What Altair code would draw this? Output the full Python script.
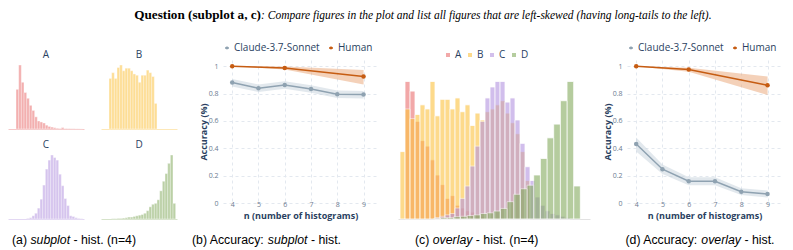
import altair as alt
import pandas as pd

# ---------------- texts ----------------
header_bold = "Question (subplot a, c)"
header_italic = ": Compare figures in the plot and list all figures that are left-skewed (having long-tails to the left)."
captions = [
    ["(a) ", "subplot", " - hist. (n=4)"],
    ["(b) Accuracy: ", "subplot", " - hist."],
    ["(c) ", "overlay", " - hist. (n=4)"],
    ["(d) Accuracy: ", "overlay", " - hist."],
]
models = ["Claude-3.7-Sonnet", "Human"]
hist_names = ["A", "B", "C", "D"]
x_title = "n (number of histograms)"
y_title = "Accuracy (%)"

# ---------------- accuracy data ----------------
n_vals = [4, 5, 6, 7, 8, 9]
human_n = [4, 6, 9]
y_ticks = [0, 0.2, 0.4, 0.6, 0.8, 1.0]

b_claude = [0.881, 0.839, 0.863, 0.834, 0.795, 0.793]
b_claude_lo = [0.853, 0.812, 0.836, 0.806, 0.768, 0.765]
b_claude_hi = [0.907, 0.866, 0.890, 0.861, 0.822, 0.820]
b_human = [1.0, 0.988, 0.925]
b_human_lo = [1.0, 0.976, 0.866]
b_human_hi = [1.0, 0.998, 0.973]

d_claude = [0.432, 0.247, 0.159, 0.159, 0.083, 0.066]
d_claude_lo = [0.376, 0.212, 0.129, 0.129, 0.058, 0.041]
d_claude_hi = [0.480, 0.282, 0.189, 0.189, 0.108, 0.091]
d_human = [1.0, 0.976, 0.861]
d_human_lo = [1.0, 0.960, 0.790]
d_human_hi = [1.0, 0.990, 0.925]

# ---------------- subplot histograms (panel a) ----------------
sub_start = {"A": 3, "B": 3, "C": 7, "D": 4}
sub_heights = {
    "A": [0.62, 1.0, 0.73, 0.57, 0.48, 0.37, 0.29, 0.19, 0.125, 0.11, 0.094, 0.06, 0.04,
          0.03, 0.02, 0.012, 0.008, 0.022, 0.006, 0.005, 0.004, 0.003, 0.002, 0.002, 0.001],
    "B": [0.79, 0.88, 0.79, 0.96, 1.0, 0.91, 0.95, 0.95, 0.91, 0.86, 0.84, 0.73, 0.84, 0.84,
          0.92, 0.88, 0.82, 0.40],
    "C": [0.01, 0.02, 0.05, 0.09, 0.17, 0.31, 0.53, 0.78, 0.92, 1.0, 0.96, 0.92, 0.70, 0.52,
          0.32, 0.21, 0.05, 0.04, 0.02, 0.01, 0.005],
    "D": [0.005, 0.005, 0.01, 0.01, 0.015, 0.02, 0.03, 0.03, 0.04, 0.05, 0.06, 0.07, 0.09,
          0.13, 0.19, 0.23, 0.245, 0.30, 0.44, 0.59, 0.71, 0.87, 1.0, 0.245],
}

# ---------------- overlay histograms (panel c) ----------------
ov_start = {"A": 1.4, "B": 0.4, "C": 7.4}
ov_heights = {
    "A": [1.0, 0.93, 0.71, 0.57, 0.53, 0.43, 0.32, 0.25, 0.15, 0.17, 0.10, 0.08, 0.06, 0.05,
          0.03, 0.02, 0.01],
    "B": [0.49, 0.80, 0.73, 0.76, 0.83, 0.80, 1.0, 0.75, 0.87, 0.87, 0.80, 0.88, 0.78, 0.83,
          0.68, 0.77, 0.72, 0.78, 0.80, 0.83, 0.86, 0.77, 0.70, 0.62, 0.49, 0.28],
    "C": [0.01, 0.02, 0.03, 0.04, 0.08, 0.15, 0.24, 0.385, 0.53, 0.71, 0.88, 0.96, 1.0, 1.0,
          0.85, 0.88, 0.72, 0.55, 0.38, 0.28, 0.16, 0.10, 0.06, 0.04, 0.03, 0.02, 0.01],
}
d_end = 36.47
d_width = 1.333
d_heights_rev = [0.24, 1.0, 0.86, 0.69, 0.59, 0.44, 0.32, 0.246, 0.22, 0.18, 0.126, 0.077,
                 0.058, 0.045, 0.04, 0.03, 0.025, 0.02, 0.017, 0.01, 0.01, 0.005]

# ---------------- styles ----------------
FONT = "Open Sans"
NAVY = "#2a3f5f"
TICKC = "#6b7a90"
GRID = "#e3e8ef"
hist_colors = ["#ea6f6f", "#fcc23f", "#b494e0", "#84ab5f"]
base_colors = ["#f5c9c9", "#fde8b8", "#e3d8f3", "#d6e3ca"]
line_colors = ["#8fa2b1", "#c65c12"]
band_colors = ["#c6d2dc", "#e9a373"]
HOP = 0.6

ARIAL = {' ': 278, '(': 333, ')': 333, '-': 333, '.': 278, ':': 278, '=': 584, '4': 556,
         'A': 667, 'a': 556, 'b': 556, 'c': 500, 'd': 556, 'e': 556, 'h': 556, 'i': 222,
         'l': 222, 'n': 556, 'o': 556, 'p': 556, 'r': 333, 's': 500, 't': 278, 'u': 556,
         'v': 500, 'y': 500}
CAP_FS = 12.3


def tw(s, fs=CAP_FS):
    return sum(ARIAL.get(ch, 556) for ch in s) * fs / 1000.0


def text_chart(txt, x, y, **kw):
    return alt.Chart(pd.DataFrame({"t": [txt]})).mark_text(**kw).encode(
        x=alt.value(x), y=alt.value(y), text="t:N")


def caption_layers(parts, x0, y0):
    out = []
    x = x0
    for i, p in enumerate(parts):
        lead = len(p) - len(p.lstrip(" "))
        out.append(text_chart(p.strip(), x + tw(" ") * lead, y0, align="left",
                              baseline="alphabetic", font="Liberation Sans", fontSize=CAP_FS,
                              fontStyle="italic" if i == 1 else "normal", color="black"))
        x += tw(p)
    return out


CAP_Y = 184

# ---------------- panel (a) ----------------
SUB_W, SUB_GAP, SUB_H, SUB_VGAP = 76, 17, 69, 21
PA_H = 2 * SUB_H + SUB_VGAP
pa_layers = []
for i, name in enumerate(hist_names):
    col, row = i % 2, i // 2
    xr = [col * (SUB_W + SUB_GAP), col * (SUB_W + SUB_GAP) + SUB_W]
    yr = [row * (SUB_H + SUB_VGAP) + SUB_H, row * (SUB_H + SUB_VGAP)]
    hs = sub_heights[name]
    df = pd.DataFrame({"x0": [sub_start[name] + k for k in range(len(hs))], "h": hs})
    df["x1"] = df["x0"] + 1
    df["z"] = 0.0
    pa_layers.append(
        alt.Chart(df).mark_rect(color=hist_colors[i], opacity=0.55, stroke="white",
                                strokeWidth=0.4).encode(
            x=alt.X("x0:Q", scale=alt.Scale(domain=[0, 28.5], range=xr, nice=False, zero=False),
                    axis=alt.Axis(orient="bottom", offset=-(PA_H - yr[0]), labels=False,
                                  ticks=False, grid=False, title=None, domainColor=base_colors[i],
                                  domainWidth=1)),
            x2="x1:Q",
            y=alt.Y("h:Q", scale=alt.Scale(domain=[0, 1.078], range=yr, nice=False), axis=None),
            y2="z:Q",
        )
    )
    pa_layers.append(text_chart(name, (xr[0] + xr[1]) / 2, yr[1] - 2, align="center",
                                baseline="alphabetic", font=FONT, fontSize=10, color=NAVY))
pa_layers += caption_layers(captions[0], 4, CAP_Y)
panel_a = alt.layer(*pa_layers).resolve_scale(x="independent", y="independent").properties(
    width=195, height=PA_H)


# ---------------- accuracy panels ----------------
def acc_panel(claude, c_lo, c_hi, human, h_lo, h_hi, caption, cap_x, extra=None):
    df = pd.concat([
        pd.DataFrame({"n": n_vals, "acc": claude, "lo": c_lo, "hi": c_hi, "model": models[0]}),
        pd.DataFrame({"n": human_n, "acc": human, "lo": h_lo, "hi": h_hi, "model": models[1]}),
    ])
    xs = alt.Scale(domain=[3.65, 9.55], nice=False, zero=False)
    ys = alt.Scale(domain=[0, 1.046], nice=False, zero=False)
    xax = alt.Axis(values=n_vals, grid=True, gridDash=[3, 3], gridColor=GRID, domain=False,
                   ticks=False, labelFontSize=7, labelColor=TICKC, labelFont=FONT,
                   labelPadding=1, labelBaseline="middle", labelOverlap=False, title=x_title,
                   titleFont=FONT, titleFontSize=9, titleFontWeight="bold", titleColor=NAVY,
                   titleY=12.5, titleBaseline="middle")
    yax = alt.Axis(values=y_ticks, format="~g", grid=True, gridDash=[3, 3], gridColor=GRID,
                   domain=False, ticks=False, labelFontSize=7, labelColor=TICKC, labelFont=FONT,
                   labelPadding=5, labelOverlap=False, title=y_title, titleFont=FONT,
                   titleFontSize=9, titleFontWeight="bold", titleColor=NAVY, titleX=-20,
                   titleBaseline="middle")
    X = alt.X("n:Q", scale=xs, axis=xax)
    sym = ("M-0.5,0H0.5M0.16,0A0.16,0.16,0,1,1,-0.16,0A0.16,0.16,0,1,1,0.16,0"
           "M0.07,0A0.07,0.07,0,1,1,-0.07,0A0.07,0.07,0,1,1,0.07,0")
    leg = alt.Legend(orient="none", legendX=-1, legendY=-17, direction="horizontal", title=None,
                     labelFont=FONT, labelFontSize=10, labelColor=NAVY, symbolType=sym,
                     symbolSize=64, symbolStrokeWidth=1.5, labelOffset=2, columnPadding=6,
                     padding=0)
    C = alt.Color("model:N", scale=alt.Scale(domain=models, range=line_colors), legend=leg)
    base = alt.Chart(df)
    bands = [
        base.transform_filter(alt.datum.model == m).mark_area(color=c, opacity=0.5).encode(
            x=X, y=alt.Y("lo:Q", scale=ys, axis=yax), y2="hi:Q")
        for m, c in zip(models, band_colors)
    ]
    line = base.mark_line(strokeWidth=1.5).encode(
        x=X, y=alt.Y("acc:Q", scale=ys, axis=yax), color=C)
    pts = base.mark_circle(size=20, opacity=1).encode(
        x=X, y=alt.Y("acc:Q", scale=ys, axis=yax), color=C)
    layers = bands + [line, pts] + caption_layers(caption, cap_x, CAP_Y)
    if extra:
        layers += extra
    return alt.layer(*layers).properties(width=155, height=143)


header = [
    text_chart(header_bold, 38, -41, align="right", baseline="alphabetic",
               font="Liberation Serif", fontSize=13.2, fontWeight="bold", color="black"),
    text_chart(header_italic, 38, -41, align="left", baseline="alphabetic",
               font="Liberation Serif", fontSize=11.5, fontStyle="italic", color="black"),
]
panel_b = acc_panel(b_claude, b_claude_lo, b_claude_hi, b_human, b_human_lo, b_human_hi,
                    captions[1], -31, extra=header)
panel_d = acc_panel(d_claude, d_claude_lo, d_claude_hi, d_human, d_human_lo, d_human_hi,
                    captions[3], -1.5)

# ---------------- panel (c) ----------------
rows = []
for name in ["A", "B", "C"]:
    for k, h in enumerate(ov_heights[name]):
        rows.append({"s": name, "x0": ov_start[name] + k, "x1": ov_start[name] + k + 1, "h": h})
for k, h in enumerate(d_heights_rev):
    rows.append({"s": "D", "x0": d_end - d_width * (k + 1), "x1": d_end - d_width * k, "h": h})
ov_df = pd.DataFrame(rows)
ov_df["z"] = 0.0

ov = alt.Chart(ov_df).mark_rect(opacity=HOP, stroke="white", strokeWidth=0.8).encode(
    x=alt.X("x0:Q", scale=alt.Scale(domain=[0, 38.4], range=[0, 192], nice=False, zero=False),
            axis=alt.Axis(labels=False, ticks=False, grid=False, title=None,
                          domainColor="#e2e2e2", domainWidth=1)),
    x2="x1:Q",
    y=alt.Y("h:Q", scale=alt.Scale(domain=[0, 1.156], nice=False), axis=None),
    y2="z:Q",
    color=alt.Color("s:N", scale=alt.Scale(domain=hist_names, range=hist_colors),
                    legend=alt.Legend(orient="none", legendX=45, legendY=-10,
                                      direction="horizontal", title=None, labelFont=FONT,
                                      labelFontSize=10, labelColor=NAVY, symbolType="square",
                                      symbolSize=16, symbolOpacity=HOP, symbolStrokeWidth=0,
                                      labelOffset=2, columnPadding=3, padding=0)),
)
panel_c = alt.layer(ov, *caption_layers(captions[2], 17, CAP_Y)).properties(width=208.5,
                                                                          height=159)

chart = alt.hconcat(panel_a, panel_b, panel_c, panel_d, spacing=20, bounds="flush").resolve_scale(
    color="independent").resolve_legend(color="independent").properties(
    padding=0, background="white").configure_view(stroke=None)

chart.save("out.html", embed_options={"renderer": "svg", "actions": False})
